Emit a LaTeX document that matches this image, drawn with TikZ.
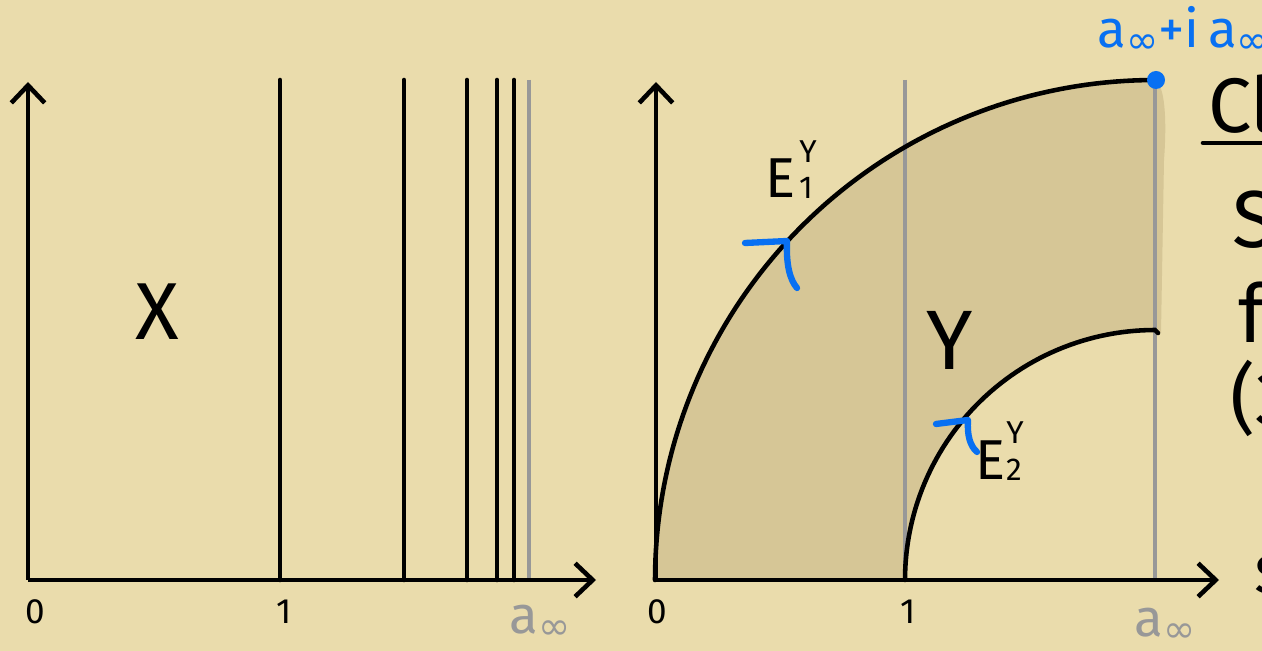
\documentclass[tikz,border=0pt]{standalone}
\usepackage{fontspec}
\setmainfont{Fira Sans}
\newfontfamily\symf{DejaVu Sans}
\usetikzlibrary{arrows.meta}
\definecolor{paper}{RGB}{234,220,172}
\definecolor{shadec}{RGB}{214,198,150}
\definecolor{gline}{RGB}{152,152,152}
\definecolor{blu}{RGB}{8,112,242}
\newcommand{\fs}[1]{\fontsize{#1}{#1}\selectfont}
\newcommand{\ainf}[2]{{\fs{#1}a\raisebox{-0.12em}{\fs{#2}\symf ∞}}}
\begin{document}
\begin{tikzpicture}[x=0.02cm,y=-0.02cm,
  blk/.style={line width=2.6pt,line cap=round},
  gry/.style={line width=2.6pt,gline},
  axis/.style={line width=2.6pt,-{Straight Barb[length=10pt,width=19pt,line width=2.6pt]}},
  bluetick/.style={line width=3.6pt,blu,line cap=round,line join=round},
  lbl/.style={inner sep=0pt,font=\fs{20}},
  glbl/.style={inner sep=0pt,text=gline}]
\useasboundingbox (0,0) rectangle (1262,651);
\fill[paper] (0,0) rectangle (1262,651);
% shaded region Y
\fill[shadec] plot[domain=180:90,samples=80] ({1155+500*cos(\x)},{580-500*sin(\x)})
  .. controls (1165,85) and (1167,120) .. (1164,160) -- (1161,333)
  -- plot[domain=90:180,samples=60] ({1155+250*cos(\x)},{580-250*sin(\x)}) -- (656,582) -- cycle;
% ---------- left panel ----------
\coordinate (lo) at (28,580);
\coordinate (lyt) at (28,82);
\coordinate (lxr) at (596,580);
\draw[gry] (529,80) -- (529,580);
\foreach \xx in {280,404,467,497,514} \draw[blk] (\xx,80) -- (\xx,580);
\draw[axis] (lo) -- (lyt);
\draw[axis] (lo) -- (lxr);
\node[lbl] (l0) at (35,612) {0};
\node[lbl] (l1) at (284,612) {1};
\node[glbl] (lainf) at (540,622) {\ainf{30}{22}};
\node[inner sep=0pt,font=\fs{46}] (X) at (157,312) {X};
% ---------- right panel ----------
\coordinate (ro) at (656,580);
\coordinate (ryt) at (656,82);
\coordinate (rxr) at (1219,580);
\draw[gry] (905,80) -- (905,580);
\draw[gry] (1155,82) -- (1155,580);
\draw[axis] (ro) -- (ryt);
\draw[axis] (ro) -- (rxr);
\draw[blk] plot[domain=180:90,samples=80] ({1155+500*cos(\x)},{580-500*sin(\x)});
\draw[blk] plot[domain=180:90,samples=60] ({1155+250*cos(\x)},{580-250*sin(\x)}) -- (1158,333);
\node[lbl] (r0) at (657,612) {0};
\node[lbl] (r1) at (908,612) {1};
\node[glbl] (rainf) at (1165,625) {\ainf{30}{22}};
\node[inner sep=0pt,font=\fs{48}] (Y) at (950,340) {Y};
% E1
\node[inner sep=0pt,font=\fs{32}] (E1) at (781,178) {E};
\node[inner sep=0pt,font=\fs{18}] (E1s) at (806,188) {1};
\node[inner sep=0pt,font=\fs{18}] (E1p) at (808,152) {Y};
% E2
\node[inner sep=0pt,font=\fs{32}] (E2) at (991,460) {E};
\node[inner sep=0pt,font=\fs{18}] (E2s) at (1014,470) {2};
\node[inner sep=0pt,font=\fs{18}] (E2p) at (1015,433) {Y};
% blue ticks
\coordinate (t1) at (787,241);
\draw[bluetick] (745,243) -- (t1) .. controls (786,265) and (790,280) .. (797,288);
\coordinate (t2) at (968,420);
\draw[bluetick] (936,424) -- (t2) .. controls (967,435) and (970,446) .. (977,452);
% blue point and label
\fill[blu] (1156,80) circle[radius=9];
\node[inner sep=0pt,anchor=west,text=blu] (lab) at (1097,30) {\ainf{30}{22}\fs{30}+i\,\ainf{30}{22}};
% cut-off text on the right edge
\node[inner sep=0pt,anchor=west,font=\fs{44}] (Cl) at (1208,104) {Cl};
\draw[blk] (1203,143) -- (1270,143);
\node[inner sep=0pt,anchor=west,font=\fs{46}] (S) at (1232,220) {S};
\node[inner sep=0pt,anchor=west,font=\fs{46}] (f) at (1238,312) {f};
\node[inner sep=0pt,anchor=west,font=\fs{44}] (par) at (1230,398) {(3};
\node[inner sep=0pt,anchor=west,font=\fs{40}] (s) at (1254,575) {s};
\end{tikzpicture}
\end{document}
